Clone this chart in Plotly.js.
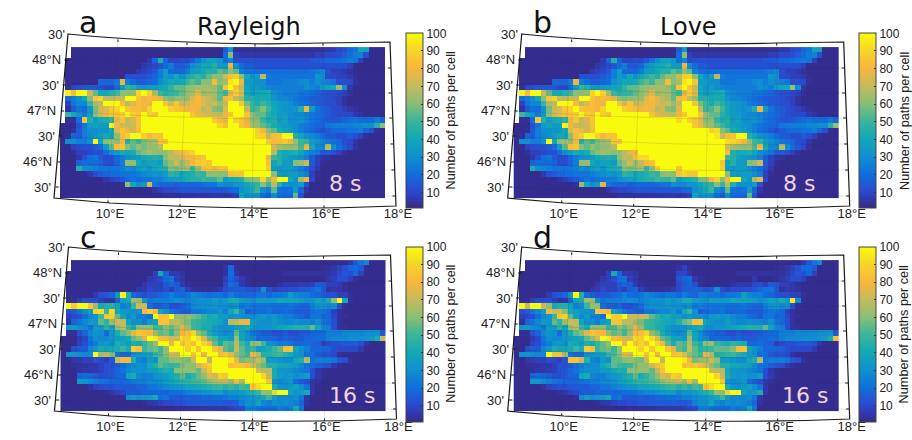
<!DOCTYPE html>
<html><head><meta charset="utf-8">
<script src="https://cdn.plot.ly/plotly-3.0.1.min.js"></script>
<style>html,body{margin:0;padding:0;background:#fff}#g{width:912px;height:440px}</style>
</head><body><div id="g"></div>
<script>
const _ = null;
const rowsA = [
[_,_,2,2,2,2,2,2,2,2,2,2,2,2,2,2,2,2,2,2,2,2,2,2,2,2,2,2,2,2, 15,32,3,3,3,3,3,3,3,3,3,3,3,3,3,3,3,3,4,5,6,10,12,18,22,38,38,2,2,2],
[_,_,2,2,2,2,2,2,2,2,2,2,2,2,2,2,2,2,2,2,2,2,2,2,2,2,2,2,2,2, 20,60,8,5,5,5,5,5,5,5,5,5,5,5,5,5,5,8,8,10,10,12,16,20,25,26,12,2,2,2],
[_,2,2,2,2,2,2,2,2,2,2,2,2,2,2,2,6,18,45,18,9,9,10,10,14,22,30,36,36,32, 20,28,10,12,12,12,12,12,12,12,12,12,12,12,12,12,14,15,16,18,18,20,22,24,22,8,2,2,2,2],
[_,2,2,2,2,2,2,2,2,2,2,2,2,2,2,6,8,10,14,20,25,15,15,20,30,35,40,40,45,35, 35,78,30,20,15,15,12,12,12,12,12,12,12,12,12,12,12,12,12,12,12,12,12,8,2,2,2,2,2,2],
[_,2,2,2,2,2,2,2,2,2,2,2,2,2,6,8,10,15,25,35,20,18,18,25,35,35,40,45,45,55, 50,60,55,25,20,20,20,20,20,20,20,20,20,20,20,20,22,25,28,12,8,8,6,4,2,2,2,2,2,2],
[_,2,2,2,2,2,2,2,2,2,2,2,12,12,12,12,15,18,25,35,30,40,30,40,45,50,45,55,60,60, 72,82,88,60,40,30,35,68,25,22,22,22,22,22,22,22,22,32,30,10,10,8,8,6,3,2,2,2,2,2],
[_,2,2,2,2,2,2,18,18,18,25,78,25,20,15,15,18,20,30,35,40,38,40,50,55,50,60,60,82,60, 65,95,100,78,35,35,30,30,22,22,22,25,25,25,28,30,25,30,28,25,22,12,12,10,3,2,2,2,2,2],
[_,3,10,12,14,14,14,14,10,10,20,35,50,45,35,32,35,35,38,40,48,55,55,60,62,65,65,65,62,55, 85,100,85,70,38,32,35,30,28,25,25,25,25,25,25,30,28,25,35,38,40,62,30,5,2,2,2,2,2,2],
[_,98,82,100,100,70,55,40,40,45,50,60,60,62,90,100,88,65,50,45,48,50,55,60,65,75,62,65,65,55, 50,75,88,75,40,35,38,40,42,30,28,25,25,25,22,22,20,18,15,12,12,10,8,4,2,2,2,2,2,2],
[_,20,25,30,40,60,85,90,70,68,72,70,100,100,85,78,82,80,75,60,58,60,62,62,75,82,75,70,65,55, 80,85,70,62,45,45,40,42,40,32,28,28,25,22,20,18,15,15,14,12,10,8,4,2,2,2,2,2,2,2],
[_,8,22,28,28,50,65,68,100,100,100,82,68,75,82,80,78,100,100,85,72,85,70,72,78,80,75,70,72,62, 70,100,100,85,58,50,42,50,45,38,35,32,30,25,22,20,18,15,14,12,12,8,4,2,2,2,2,2,2,2],
[_,4,15,22,20,32,58,72,75,85,90,100,85,82,82,80,90,100,100,100,88,85,82,78,80,78,68,72,60,58, 75,100,100,100,70,50,52,60,50,40,35,32,30,32,45,78,35,22,18,15,12,10,8,5,3,2,2,2,2,2],
[_,50,40,32,25,35,60,72,78,85,85,88,100,88,85,100,88,85,100,100,100,100,100,100,85,78,75,72,70,68, 78,85,100,100,85,62,55,55,45,40,35,35,30,28,28,25,22,20,18,14,12,10,10,10,6,4,2,2,2,2],
[_,3,3,20,85,45,35,40,42,48,75,85,70,75,85,100,100,100,100,100,100,100,100,100,100,100,100,100,88,82, 75,100,90,85,75,60,60,50,42,45,35,38,30,30,32,28,22,20,18,15,14,15,18,20,22,20,20,20,25,18],
[2,2,2,12,22,35,38,35,35,100,78,72,70,72,85,100,100,100,100,100,100,100,100,100,100,100,100,100,100,90, 82,100,100,85,78,65,62,55,50,42,38,35,32,30,25,22,20,18,18,22,24,25,25,25,28,28,30,30,45,62],
[2,2,3,15,25,30,30,32,32,40,75,85,78,72,82,100,100,100,100,100,100,100,100,100,100,100,100,100,100,100, 100,100,100,100,100,100,88,80,60,55,42,38,35,30,25,20,18,14,12,15,18,20,20,22,22,25,18,12,3,2],
[2,3,18,15,25,28,30,35,40,38,60,82,88,100,100,88,80,85,85,100,100,100,100,100,100,100,100,100,100,100, 100,100,100,100,100,100,90,88,70,82,85,100,100,45,38,30,28,25,20,15,15,12,12,15,12,8,3,2,2,2],
[2,30,30,25,25,30,100,38,60,65,60,80,45,55,50,58,62,65,85,85,100,100,100,100,100,100,100,100,100,100, 100,100,100,100,100,100,100,100,85,82,82,85,78,62,50,48,35,30,28,22,20,18,12,10,5,2,2,2,2,2],
[2,2,8,10,12,12,15,20,35,55,82,85,60,55,62,58,62,62,68,100,100,100,100,100,100,100,100,100,100,100, 100,100,100,100,100,100,100,100,100,72,65,62,60,62,52,78,40,28,28,68,30,20,15,10,4,2,2,2,2,2],
[2,2,3,8,8,10,12,12,20,30,35,42,38,42,55,60,65,62,60,62,68,75,80,85,90,100,100,100,100,100, 100,100,100,100,100,100,100,100,100,68,45,40,42,45,38,30,25,22,15,15,12,8,4,2,2,2,2,2,2,2],
[2,2,2,5,12,20,22,15,10,12,18,25,30,32,35,40,42,45,42,60,70,68,72,80,78,82,85,100,100,100, 100,100,100,100,100,100,100,100,78,50,45,38,35,32,30,25,15,8,5,4,2,2,2,2,2,2,2,2,2,2],
[2,2,2,18,20,20,20,18,12,12,18,25,62,62,40,35,38,38,35,55,62,72,62,70,80,85,88,85,100,100, 100,100,100,100,100,100,100,100,85,38,45,35,35,60,62,72,15,8,3,2,2,2,2,2,2,2,2,2,2,2],
[2,2,2,45,30,28,25,22,22,22,22,25,30,28,35,38,32,40,42,45,60,58,62,65,50,62,82,85,78,85, 85,100,100,100,100,100,100,100,88,35,32,35,35,30,25,20,12,6,2,2,2,2,2,2,2,2,2,2,2,2],
[2,2,2,2,2,6,12,15,18,20,20,22,22,22,25,28,30,32,30,35,48,45,38,42,45,50,48,60,62,60, 60,82,85,85,100,100,100,100,100,60,35,32,35,35,30,25,8,3,2,2,2,2,2,2,2,2,2,2,2,2],
[2,2,2,2,2,2,2,2,5,8,10,14,18,22,20,22,22,25,25,30,32,35,38,42,45,45,50,48,48,55, 35,40,42,45,58,60,62,90,60,80,100,100,40,32,65,78,10,2,2,2,2,2,2,2,2,2,2,2,2,2],
[2,2,2,2,2,2,2,2,2,2,2,3,62,40,30,35,75,22,18,18,18,15,18,18,18,18,20,22,22,30, 28,28,32,32,38,45,48,60,50,68,45,30,30,30,35,12,2,2,2,2,2,2,2,2,2,2,2,2,2,2],
[2,2,2,2,2,2,2,2,2,2,2,2,2,2,2,2,2,5,8,10,10,12,14,14,14,14,14,14,14,14, 15,18,20,30,35,42,50,30,25,55,22,20,22,35,18,5,2,2,2,2,2,2,2,2,2,2,2,2,2,2],
[2,2,2,2,2,2,2,2,2,2,2,2,2,2,2,2,2,2,2,3,3,3,4,4,4,5,5,5,6,6, 5,6,8,40,30,32,30,20,15,30,20,18,18,55,12,2,2,2,2,2,2,2,2,2,2,2,2,2,2,2]
];
const rowsC = [
[_,_,2,2,2,2,2,2,2,2,2,2,2,2,2,2,2,2,2,2,2,2,2,2,2,2,2,2,2,2, 2,2,2,2,2,2,2,2,2,2,2,2,2,2,2,2,2,2,2,2,2,2,2,5,14,22,28,2,2,2],
[_,_,2,2,2,2,2,2,2,2,2,2,2,2,2,2,2,2,2,2,2,2,2,2,2,2,2,2,2,2, 4,18,3,2,2,2,2,2,2,2,2,2,2,2,2,2,2,2,3,3,5,8,12,18,20,15,2,2,2,2],
[_,2,2,2,2,2,2,2,2,2,2,2,2,2,2,2,2,8,40,18,6,6,4,2,2,2,2,2,2,2, 4,20,5,2,2,2,2,2,2,2,2,4,4,4,4,4,4,4,4,4,6,10,14,12,18,8,2,2,2,2],
[_,2,2,2,2,2,2,2,2,2,2,2,2,2,2,2,6,8,12,20,22,8,5,2,2,2,2,2,2,2, 8,18,12,6,3,2,2,2,2,2,2,2,2,2,2,2,2,2,3,5,8,12,12,8,3,2,2,2,2,2],
[_,2,2,2,2,2,2,2,2,2,2,2,2,2,2,5,8,8,8,14,18,15,6,3,2,2,2,2,2,2, 10,20,16,6,3,2,2,2,2,2,4,6,6,6,7,7,8,15,14,8,8,6,3,2,2,2,2,2,2,2],
[_,2,2,2,2,2,2,2,2,2,2,2,2,2,5,6,10,8,8,12,8,15,18,8,4,3,3,3,4,6, 12,14,15,15,12,12,14,30,12,8,10,10,12,12,14,15,18,22,14,4,6,5,3,2,2,2,2,2,2,2],
[_,2,2,2,2,2,6,12,14,18,35,100,45,20,15,12,14,15,18,20,25,20,18,22,28,25,22,20,22,22, 18,25,20,18,18,18,22,22,18,22,22,25,35,28,25,25,20,18,15,12,12,8,8,3,2,2,2,2,2,2],
[_,2,3,8,12,12,12,8,5,5,18,38,42,65,62,30,22,25,25,25,28,30,28,25,28,30,30,30,35,30, 35,42,42,35,32,30,35,35,35,35,40,38,38,38,35,30,32,38,35,42,60,100,40,3,2,2,2,2,2,2],
[_,100,88,100,100,85,62,40,45,45,38,25,28,50,72,72,20,15,15,18,12,12,15,20,28,30,30,30,32,30, 30,28,30,22,25,22,22,22,22,20,20,20,22,20,18,18,25,30,32,28,30,12,3,2,2,2,2,2,2,2],
[_,12,15,22,28,35,88,92,50,92,40,35,32,30,30,80,88,80,38,30,22,18,15,15,22,22,25,28,28,32, 25,40,50,30,15,18,20,20,22,18,18,20,18,15,15,15,20,22,22,18,8,4,2,2,2,2,2,2,2,2],
[_,8,10,12,20,28,32,50,85,88,55,38,28,35,25,25,20,100,85,85,100,62,62,62,58,55,48,40,42,35, 35,30,32,30,30,28,32,35,30,32,28,25,25,20,18,15,22,22,18,18,10,4,3,2,2,2,2,2,2,2],
[_,4,18,22,28,35,32,55,48,62,72,70,38,30,30,25,35,38,85,85,68,70,62,58,50,48,45,42,40,38, 30,68,70,78,78,38,32,30,30,35,30,28,28,30,28,28,25,30,22,18,12,4,2,2,2,2,2,2,2,2],
[_,32,35,30,28,22,35,35,48,38,62,68,50,42,62,62,62,50,52,60,55,62,75,62,50,48,42,42,35,30, 30,30,35,38,42,32,30,32,32,35,38,40,42,45,45,45,55,38,28,25,12,4,3,2,2,2,2,2,2,2],
[_,3,3,12,18,28,32,30,20,32,42,55,60,75,85,82,80,62,55,58,50,62,80,82,90,62,55,42,35,30, 28,30,55,38,30,22,18,15,15,12,12,15,12,12,14,15,18,18,20,25,25,25,28,28,28,28,30,30,32,15],
[2,2,2,6,10,22,30,28,28,32,35,38,40,55,62,75,100,95,82,80,72,72,92,88,100,92,75,55,50,38, 38,32,62,38,30,28,18,20,18,18,15,18,15,14,15,18,18,20,20,25,28,28,28,30,30,30,32,35,42,72],
[2,2,2,8,12,20,25,32,35,30,42,40,35,45,40,48,55,62,100,100,78,100,85,90,82,100,90,80,55,42, 55,52,68,50,42,60,62,50,32,28,25,25,22,18,18,20,18,16,8,10,12,12,14,14,15,12,5,2,2,2],
[2,2,12,15,15,28,32,42,38,40,42,50,42,88,82,50,55,58,50,62,100,100,100,88,100,85,100,100,85,75, 55,50,70,55,45,50,35,38,42,50,55,82,85,38,30,25,18,18,18,16,12,10,10,10,10,6,2,2,2,2],
[2,32,32,30,28,28,100,65,68,60,22,18,18,30,32,35,38,48,52,60,75,72,100,100,85,100,78,100,100,82, 85,75,60,55,50,78,65,45,45,48,50,45,40,32,30,20,20,14,12,12,10,4,2,2,2,2,2,2,2,2],
[2,2,5,6,8,8,12,10,8,14,72,80,80,45,28,25,35,30,55,55,60,62,60,58,72,100,100,68,100,100, 100,95,78,58,60,62,72,62,35,35,32,30,30,40,45,68,22,25,25,25,22,14,12,4,2,2,2,2,2,2],
[2,2,3,4,4,5,5,8,12,12,15,20,25,28,30,30,40,45,55,50,48,50,58,62,60,72,82,88,100,100, 100,82,85,85,80,72,60,55,45,45,40,40,38,35,28,22,20,16,14,12,6,3,2,2,2,2,2,2,2,2],
[2,2,2,4,5,5,6,8,12,14,18,22,28,30,30,30,35,35,40,45,42,60,62,62,62,55,70,85,100,100, 100,100,100,100,100,100,72,68,68,40,32,32,30,28,25,22,12,5,3,2,2,2,2,2,2,2,2,2,2,2],
[2,2,2,18,20,18,15,12,12,14,18,18,38,42,28,25,25,30,32,35,40,45,55,42,48,55,62,75,72,88, 85,100,100,100,100,100,100,90,70,42,35,32,35,30,32,35,12,6,3,2,2,2,2,2,2,2,2,2,2,2],
[2,2,2,35,32,28,25,22,20,18,18,18,20,22,25,25,28,28,30,35,38,42,48,48,50,52,55,60,65,68, 70,62,82,65,100,100,100,100,85,30,28,30,32,20,15,12,5,3,2,2,2,2,2,2,2,2,2,2,2,2],
[2,2,2,2,2,4,8,10,12,12,14,15,15,15,18,18,22,22,25,28,30,32,35,38,38,40,42,45,48,50, 45,50,45,52,50,85,92,100,100,42,32,30,35,38,30,22,5,2,2,2,2,2,2,2,2,2,2,2,2,2],
[2,2,2,2,2,2,2,2,3,5,8,10,15,15,15,18,18,18,18,18,20,20,22,25,28,28,30,32,35,35, 28,32,32,35,40,45,50,62,62,90,100,100,38,32,35,42,5,2,2,2,2,2,2,2,2,2,2,2,2,2],
[2,2,2,2,2,2,2,2,2,2,2,3,30,35,30,32,35,40,20,22,15,15,15,16,15,16,18,18,20,20, 22,25,25,28,30,32,35,40,50,35,28,28,28,30,22,5,2,2,2,2,2,2,2,2,2,2,2,2,2,2],
[2,2,2,2,2,2,2,2,2,2,2,2,2,2,2,3,5,6,8,10,10,12,12,14,14,15,15,15,15,16, 14,14,16,25,30,30,38,28,25,30,28,30,28,25,18,4,2,2,2,2,2,2,2,2,2,2,2,2,2,2],
[2,2,2,2,2,2,2,2,2,2,2,2,2,2,2,2,2,2,2,2,2,3,3,3,4,4,5,6,6,6, 6,8,10,12,25,25,22,20,20,20,25,22,25,40,22,2,2,2,2,2,2,2,2,2,2,2,2,2,2,2]
];
const loveEdits8 = [[13,28,100],[13,29,100],[14,29,100],[14,30,100],[16,36,100],[16,37,95],[19,23,100],[19,24,100],[20,22,85],[20,23,92],[20,24,92],[20,25,100],[20,26,100],[21,26,100],[21,27,100],[22,26,88],[22,27,100],[22,28,100],[22,29,100],[23,30,85],[23,31,90],[24,36,80],[12,24,100],[12,25,85],[13,30,92],[15,37,92],[17,38,100],[17,39,92],[17,40,90],[19,39,82],[20,38,100],[5,31,88],[6,33,85]];
const loveEdits16 = [[1,31,8],[2,30,10],[2,31,10],[3,30,14],[3,31,18],[3,32,20],[4,31,15],[4,32,18],[4,33,12],[5,30,10],[5,31,16],[5,32,16],[5,33,18],[5,34,16],[6,34,25],[6,35,25],[7,50,35],[7,51,95],[7,52,30],[8,2,72],[8,5,72],[8,14,62],[8,15,62],[9,6,78],[9,7,72],[9,8,72],[9,9,60],[9,15,85],[9,16,85],[10,18,88],[10,19,88],[10,21,72],[10,22,72],[10,23,72],[10,24,70],[11,30,45],[11,31,55],[11,32,60],[11,33,85],[11,34,85],[13,59,15],[14,59,82],[15,38,45],[15,39,42],[15,40,48],[15,41,45],[15,42,42],[16,36,50],[16,37,55],[16,38,55],[16,39,55],[16,40,60],[17,7,85],[17,8,85],[17,9,65],[18,10,85],[18,11,85],[18,12,72],[3,44,6],[4,44,10],[4,45,12],[5,45,18],[5,46,22]];
const editCells = (rows, edits) => { const out = rows.map(r => r.slice()); edits.forEach(e => { out[e[0]][e[1]] = e[2]; }); return out; };
const rowsB = editCells(rowsA, loveEdits8);
const rowsD = editCells(rowsC, loveEdits16);

const lonTicks = [10,12,14,16,18];
const lonText = ['10°E','12°E','14°E','16°E','18°E'];
const latTicks = [48.5,48,47.5,47,46.5,46,45.5];
const latText = ["30'",'48°N',"30'",'47°N',"30'",'46°N',"30'"];
const cbTicks = [10,20,30,40,50,60,70,80,90,100];
const panelLetters = ['a','b','c','d'];
const periodText = ['8 s','8 s','16 s','16 s'];
const waveText = ['Rayleigh','Love'];

const parula = [[0,'#352a87'],[0.05,'#3139ae'],[0.1,'#2a4ad0'],[0.2,'#1070dd'],[0.3,'#1091cd'],[0.4,'#12a9b4'],[0.5,'#3cb59a'],[0.6,'#8bbe74'],[0.7,'#c6ba5c'],[0.8,'#f9b63c'],[0.9,'#f5d52a'],[1,'#f9fb0e']];
const W = 912, H = 440;
const fx = p => (p / W).toFixed(5), fy = p => (1 - p / H).toFixed(5);
const offs = [[0,0],[453.7,0],[0.5,213],[453.7,213]];
const cbX = [405.7,859.3,405.7,859.3], cbTop = [33.3,33.3,246.7,246.7];
const data = [rowsA,rowsB,rowsC,rowsD];
const traces = [], shapes = [], annotations = [], layout = {
  width:W,height:H,margin:{l:0,r:0,t:0,b:0,autoexpand:false},paper_bgcolor:'#fff',plot_bgcolor:'rgba(0,0,0,0)',
  font:{family:'Liberation Sans, Arial, sans-serif',color:'#222'},showlegend:false
};
const sansTxt = (x,y,text,size,color,family,extra) => Object.assign({xref:'paper',yref:'paper',x:x/W,y:1-y/H,text:text,showarrow:false,xanchor:'center',yanchor:'middle',font:{size:size,color:color||'#111',family:family||'DejaVu Sans'}},extra||{});

data.forEach((z,i) => {
  const dx = offs[i][0], dy = offs[i][1], s = i ? String(i+1) : '';
  traces.push({type:'heatmap',z:z,x0:8.686,dx:0.1505,y0:48.2,dy:-0.1057,xaxis:'x'+s,yaxis:'y'+s,zmin:1,zmax:100,zsmooth:false,colorscale:parula,hoverongaps:false,
    colorbar:{x:cbX[i]/W,xanchor:'left',y:1-cbTop[i]/H,yanchor:'top',thickness:17,thicknessmode:'pixels',len:174.7,lenmode:'pixels',xpad:0,ypad:0,outlinecolor:'#444',outlinewidth:1,tickvals:cbTicks,ticks:'inside',ticklen:2,tickcolor:'#333',tickwidth:1,tickfont:{size:12,color:'#222',family:'Liberation Sans'}}});
  layout['xaxis'+s] = {domain:[(54+dx)/W,(398+dx)/W],range:[8.444,18],anchor:'y'+s,tickvals:lonTicks,ticktext:lonText,ticks:'',showgrid:false,zeroline:false,showline:false,tickfont:{size:13,color:'#222'},tickangle:0};
  layout['yaxis'+s] = {domain:[1-(204+dy)/H,1-(30+dy)/H],range:[45.176,48.588],anchor:'x'+s,showticklabels:false,ticks:'',showgrid:false,zeroline:false,showline:false};

  const P = (x,y) => fx(x+dx)+' '+fy(y+dy);
  // faint graticule
  const meridians = [[118,39,108,203],[187,43,180,206],[255,44,252,208],[323,43,324,207]];
  const parallels = [[64,60,388,68],[62,85,389,93],[60,111,391,118],[58,136,392,144],[56,162,394,170],[55,187,395,196]];
  let g = '';
  meridians.forEach(m => { g += 'M'+P(m[0],m[1])+' L'+P(m[2],m[3])+' '; });
  parallels.forEach(m => { g += 'M'+P(m[0],m[1])+' Q'+P((m[0]+m[2])/2,(m[1]+m[3])/2+8)+' '+P(m[2],m[3])+' '; });
  shapes.push({type:'path',xref:'paper',yref:'paper',path:g,line:{color:'rgba(40,40,40,0.16)',width:0.8}});
  // frame
  const frame = 'M'+P(68,34)+' Q'+P(120,39)+' '+P(187,42)+' Q'+P(255,45)+' '+P(322,43)+' L'+P(390,42)+' L'+P(396,206)+' Q'+P(322,209)+' '+P(252,208)+' Q'+P(180,207)+' '+P(110,203)+' L'+P(54,198)+' Z';
  shapes.push({type:'path',xref:'paper',yref:'paper',path:frame,line:{color:'#1a1a1a',width:1.2}});
  // frame ticks
  let t = '';
  [[118,39.5,118,42],[187,42.5,187,45],[255,44,255,46.5],[323,43,323,45.5],[108,203,108,200.5],[180,206.5,180,204],[252,208,252,205.5],[324,208,324,205.5],
   [391,68,388,68],[391.5,93,388.5,93],[392.5,118,389.5,118],[393.5,144,390.5,144],[394.5,170,391.5,170],[395.5,196,392.5,196],
   [64.5,60,68,60],[62.5,85,65.5,85],[61,111,64,111],[59,136,62,136],[57.5,162,60.5,162],[55.5,187,58.5,187]].forEach(m => { t += 'M'+P(m[0],m[1])+' L'+P(m[2],m[3])+' '; });
  shapes.push({type:'path',xref:'paper',yref:'paper',path:t,line:{color:'#1a1a1a',width:1}});

  // latitude labels along the slanted left edge
  const latX = [65.7,62,60,57.3,56,53.3,51.7];
  latTicks.forEach((lat,k) => annotations.push({xref:'paper',yref:'y'+s,x:(latX[k]+dx)/W,y:lat,text:latText[k],showarrow:false,xanchor:'right',yanchor:'middle',font:{size:13,color:'#222',family:'Liberation Sans'},borderpad:0}));
  // colorbar label
  annotations.push(sansTxt(cbX[i]+45,cbTop[i]+87.4,'Number of paths per cell',12.7,'#222','Liberation Sans',{textangle:-90}));
  // panel letter, period
  annotations.push(sansTxt(offs[i][0]+(i%2?89:88),(i<2?23:23+214),panelLetters[i],30,'#111','DejaVu Sans'));
  annotations.push(sansTxt(dx+(i<2?345:351.5),dy+(i<2?183:182),periodText[i],22,'#f5d3de','DejaVu Sans'));
  if(i<2) annotations.push(sansTxt(i?688.7:249,27,waveText[i],24,'#111','DejaVu Sans'));
});
layout.shapes = shapes; layout.annotations = annotations;
Plotly.newPlot('g',traces,layout,{displayModeBar:false,staticPlot:true});
</script></body></html>
